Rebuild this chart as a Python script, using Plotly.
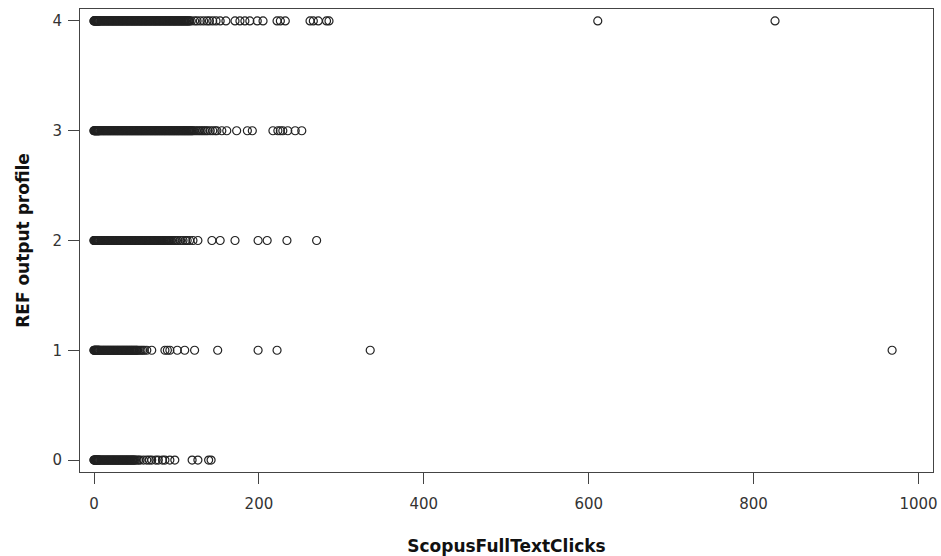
import plotly.graph_objects as go

# x values (ScopusFullTextClicks), per REF output profile level
clicks_4 = [0, 0, 1, 1, 2, 2, 3, 3, 4, 4, 5, 5, 6, 6, 7, 8, 9, 10, 11, 12, 13, 14, 15, 16, 17, 18, 19,
            20, 21, 22, 23, 24, 25, 26, 27, 28, 29, 30, 31, 32, 33, 34, 35, 36, 37, 38, 39, 40, 41, 42,
            43, 44, 45, 46, 47, 48, 49, 50, 51, 52, 53, 54, 55, 56, 57, 58, 59, 60, 61, 62, 63, 64, 65,
            66, 67, 68, 69, 70, 71, 72, 73, 74, 75, 76, 77, 78, 79, 80, 81, 82, 83, 84, 85, 86, 87, 88,
            89, 90, 91, 92, 93, 94, 95, 96, 97, 98, 99, 100, 101, 102, 103, 104, 105, 106, 107, 108,
            109, 110, 111, 112, 113, 114, 115, 116, 118, 122, 125, 129, 133, 137, 140, 144, 148, 153,
            160, 171, 177, 183, 189, 198, 205, 222, 226, 232, 262, 266, 272, 282, 285, 611, 826]
clicks_3 = [0, 0, 1, 1, 2, 2, 3, 3, 4, 4, 5, 5, 6, 6, 7, 8, 9, 10, 11, 12, 13, 14, 15, 16, 17, 18, 19,
            20, 21, 22, 23, 24, 25, 26, 27, 28, 29, 30, 31, 32, 33, 34, 35, 36, 37, 38, 39, 40, 41, 42,
            43, 44, 45, 46, 47, 48, 49, 50, 51, 52, 53, 54, 55, 56, 57, 58, 59, 60, 61, 62, 63, 64, 65,
            66, 67, 68, 69, 70, 71, 72, 73, 74, 75, 76, 77, 78, 79, 80, 81, 82, 83, 84, 85, 86, 87, 88,
            89, 90, 91, 92, 93, 94, 95, 96, 97, 98, 99, 100, 101, 102, 103, 104, 105, 106, 107, 108,
            109, 110, 111, 112, 113, 114, 115, 116, 117, 118, 119, 120, 122, 124, 126, 128, 130, 132,
            134, 136, 138, 141, 144, 147, 149, 155, 161, 173, 186, 192, 217, 223, 226, 229, 235, 244, 252]
clicks_2 = [0, 0, 1, 1, 2, 2, 3, 3, 4, 4, 5, 5, 6, 6, 7, 8, 9, 10, 11, 12, 13, 14, 15, 16, 17, 18, 19,
            20, 21, 22, 23, 24, 25, 26, 27, 28, 29, 30, 31, 32, 33, 34, 35, 36, 37, 38, 39, 40, 41, 42,
            43, 44, 45, 46, 47, 48, 49, 50, 51, 52, 53, 54, 55, 56, 57, 58, 59, 60, 61, 62, 63, 64, 65,
            66, 67, 68, 69, 70, 71, 72, 73, 74, 75, 76, 77, 78, 79, 80, 81, 82, 83, 84, 85, 86, 87, 88,
            89, 90, 91, 92, 94, 96, 98, 100, 102, 105, 108, 111, 113, 116, 120, 126, 143, 153, 171,
            199, 210, 234, 270]
clicks_1 = [0, 0, 1, 1, 2, 2, 3, 3, 4, 4, 5, 5, 6, 6, 7, 8, 9, 10, 11, 12, 13, 14, 15, 16, 17, 18, 19,
            20, 21, 22, 23, 24, 25, 26, 27, 28, 29, 30, 31, 32, 33, 34, 35, 36, 37, 38, 39, 40, 41, 42,
            43, 44, 45, 46, 47, 48, 49, 50, 51, 52, 53, 55, 57, 59, 61, 64, 70, 86, 89, 92, 101, 110,
            122, 150, 199, 222, 335, 968]
clicks_0 = [0, 0, 1, 1, 2, 2, 3, 3, 4, 4, 5, 5, 6, 6, 7, 8, 9, 10, 11, 12, 13, 14, 15, 16, 17, 18, 19,
            20, 21, 22, 23, 24, 25, 26, 27, 28, 29, 30, 31, 32, 33, 34, 35, 36, 37, 38, 39, 40, 41, 42,
            43, 44, 45, 46, 47, 48, 49, 50, 52, 54, 56, 60, 64, 67, 70, 75, 78, 83, 86, 92, 98, 119,
            126, 139, 142]

levels = [0, 1, 2, 3, 4]
clicks_by_level = [clicks_0, clicks_1, clicks_2, clicks_3, clicks_4]

x_ticks = [0, 200, 400, 600, 800, 1000]
y_ticks = [0, 1, 2, 3, 4]

fig = go.Figure()
for lvl, xs in zip(levels, clicks_by_level):
    fig.add_trace(go.Scatter(
        x=xs, y=[lvl] * len(xs), mode="markers",
        marker=dict(symbol="circle-open", size=8, color="#222222", line=dict(width=1.2)),
        showlegend=False, hoverinfo="x+y"))

axis_common = dict(showgrid=False, zeroline=False, showline=True, linecolor="#444444", linewidth=1,
                   mirror=True, ticks="outside", tickcolor="#444444", ticklen=11, tickwidth=1,
                   automargin=False,
                   tickfont=dict(family="DejaVu Sans", size=15, color="#333333"))

fig.update_layout(
    width=941, height=556,
    margin=dict(l=80, r=8, t=9, b=84),
    paper_bgcolor="white", plot_bgcolor="white",
    xaxis=dict(range=[-17, 1017.6], tickvals=x_ticks, ticklabelstandoff=7,
               title=dict(text="<b>ScopusFullTextClicks</b>", standoff=30,
                          font=dict(family="DejaVu Sans", size=17, color="#111111")),
               **axis_common),
    yaxis=dict(range=[-0.109, 4.109], tickvals=y_ticks, ticklabelstandoff=3,
               title=dict(text="<b>REF output profile</b>", standoff=18,
                          font=dict(family="DejaVu Sans", size=17, color="#111111")),
               **axis_common),
)

fig.write_html("out.html")
